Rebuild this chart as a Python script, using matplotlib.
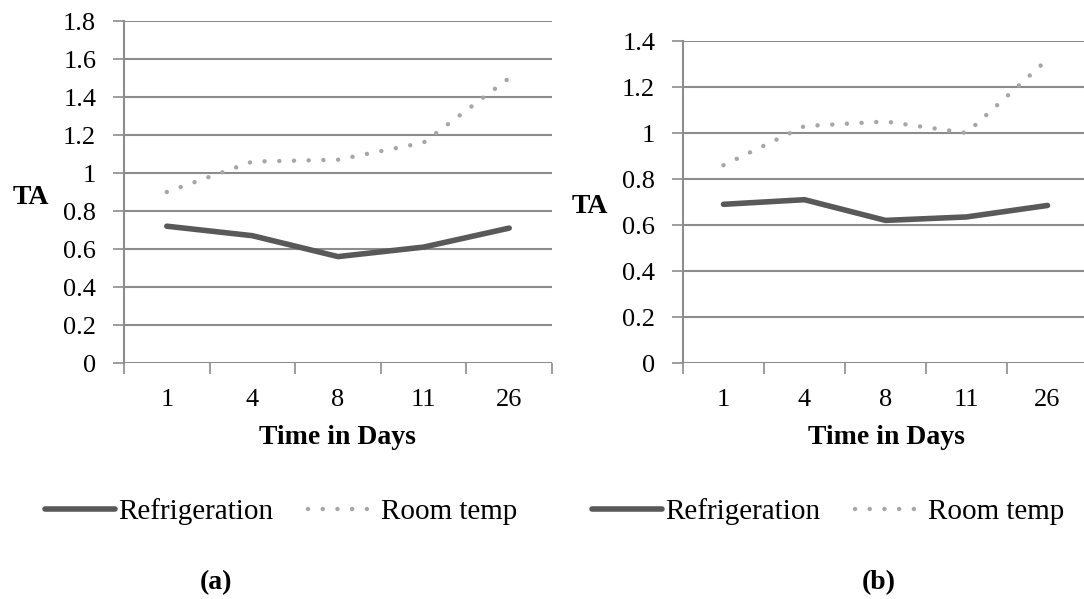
import numpy as np
import matplotlib
matplotlib.use("Agg")
import matplotlib.pyplot as plt

plt.rcParams['font.family'] = ['Liberation Serif', 'DejaVu Serif']

# data
days = ['1', '4', '8', '11', '26']
refrig_a = [0.72, 0.67, 0.56, 0.61, 0.71]
room_a = [0.90, 1.06, 1.07, 1.16, 1.50]
refrig_b = [0.69, 0.71, 0.62, 0.635, 0.685]
room_b = [0.86, 1.03, 1.05, 1.00, 1.32]
yticks_a = [0, 0.2, 0.4, 0.6, 0.8, 1, 1.2, 1.4, 1.6, 1.8]
yticks_b = [0, 0.2, 0.4, 0.6, 0.8, 1, 1.2, 1.4]

W, H = 1084, 599
fig = plt.figure(figsize=(W / 100, H / 100), dpi=100)

grid_c = '#8c8c8c'
dark = '#595959'
light = '#a6a6a6'
fs = 19


def fmt(v):
    s = ('%.1f' % v)
    return s[:-2] if s.endswith('.0') else s


def panel(rect, refrig, room, yticks, ta_xy, xl_x, leg_x, tag, tag_x):
    ax = fig.add_axes(rect)
    x = np.arange(len(days))
    ax.plot(x, refrig, color=dark, lw=4, solid_capstyle='round', label='Refrigeration', zorder=3)
    ax.plot(x, room, color=light, lw=3.2, linestyle=(0, (0.01, 3.3)), dash_capstyle='round',
            label='Room temp', zorder=3)
    ax.set_xlim(-0.5, len(days) - 0.5)
    ax.set_ylim(0, yticks[-1])
    ax.set_yticks(yticks)
    ax.set_yticklabels([fmt(v) for v in yticks], fontsize=fs)
    for v in yticks:
        ax.axhline(v, color=grid_c, lw=1.5, zorder=1)
    ax.set_xticks(np.arange(-0.5, len(days), 1.0))
    ax.set_xticklabels([])
    ax.set_xticks(x, minor=True)
    ax.set_xticklabels(days, minor=True, fontsize=fs)
    ax.tick_params(axis='x', which='major', length=8, width=1.2, color=grid_c, direction='out')
    ax.tick_params(axis='x', which='minor', length=0, pad=19)
    ax.tick_params(axis='y', length=8, width=1.2, color=grid_c, pad=12)
    for s in ['top', 'right', 'bottom']:
        ax.spines[s].set_visible(False)
    ax.spines['left'].set_color(grid_c)
    ax.spines['left'].set_linewidth(1.5)

    fig.text(ta_xy[0] / W, 1 - ta_xy[1] / H, 'TA', fontsize=20, fontweight='bold',
             ha='center', va='center')
    fig.text(xl_x / W, 1 - 438 / H, 'Time in Days', fontsize=20, fontweight='bold',
             ha='center', va='center')
    fig.legend(*ax.get_legend_handles_labels(), loc='center', ncol=2, frameon=False,
               bbox_to_anchor=(leg_x / W, 1 - 512 / H), fontsize=21, handlelength=2.4,
               handletextpad=0.1, columnspacing=1.2)
    fig.text(tag_x / W, 1 - 583 / H, tag, fontsize=20, fontweight='bold',
             ha='center', va='center')
    return ax


panel([124 / W, 1 - 363 / H, (552 - 124) / W, (363 - 21) / H], refrig_a, room_a, yticks_a,
      (31, 197), 337, 281, '(a)', 216)
panel([683 / W, 1 - 363 / H, (1088 - 683) / W, (363 - 41) / H], refrig_b, room_b, yticks_b,
      (590, 207), 886, 828, '(b)', 879)

fig.savefig('out.png', dpi=100)
